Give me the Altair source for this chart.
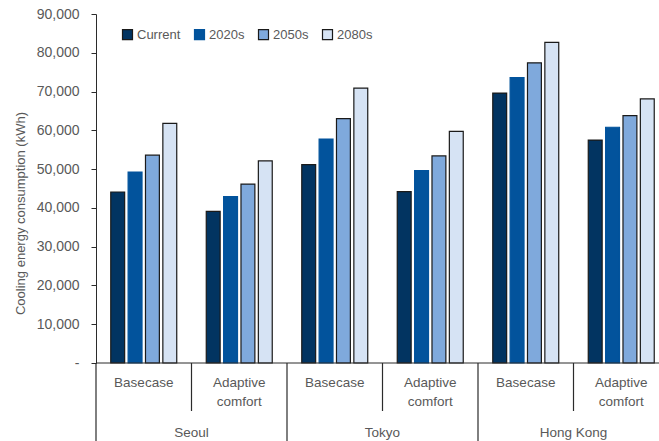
import altair as alt
import pandas as pd

cities = ["Seoul", "Tokyo", "Hong Kong"]
cases = ["Basecase", "Adaptive comfort"]
case_line1 = ["Basecase", "Adaptive"]
case_line2 = ["", "comfort"]
periods = ["Current", "2020s", "2050s", "2080s"]

# values per category: Seoul-Base, Seoul-Adapt, Tokyo-Base, Tokyo-Adapt, HK-Base, HK-Adapt
current = [44100, 39100, 51150, 44200, 69600, 57500]
s2020 = [49250, 42900, 57750, 49600, 73600, 60800]
s2050 = [53600, 46150, 63000, 53400, 77400, 63800]
s2080 = [61800, 52100, 70900, 59750, 82700, 68100]

fill_colors = ["#023461", "#02539C", "#7FA9DC", "#D6E3F4"]
stroke_colors = ["#1a1a1a", "#02539C", "#1a1a1a", "#1a1a1a"]

keys = [f"{c} | {k}" for c in cities for k in cases]
series = [current, s2020, s2050, s2080]

rows = []
for p, vals in zip(periods, series):
    for key, v in zip(keys, vals):
        rows.append({"key": key, "period": p, "value": v})
bars_df = pd.DataFrame(rows)

labels_df = pd.DataFrame([
    {"key": f"{c} | {k}", "line1": l1, "line2": l2, "case": k}
    for c in cities for k, l1, l2 in zip(cases, case_line1, case_line2)
])
city_df = pd.DataFrame([{"key": f"{c} | Basecase", "city": c} for c in cities])
short_df = pd.DataFrame([{"key": f"{c} | Adaptive comfort"} for c in cities])
long_df = pd.DataFrame([{"key": f"{c} | Basecase"} for c in cities])

FONT = "Liberation Sans"
TXT = "#595959"
LINE = "#2b2b2b"
W, H = 563, 349

xscale = alt.Scale(domain=keys, range=[0, 573], paddingInner=0, paddingOuter=0)


def X(band=0.5):
    return alt.X("key:N", sort=keys, scale=xscale, axis=None, bandPosition=band)


def legend():
    return alt.Legend(orient="none", legendX=25, legendY=14,
                      direction="horizontal", title=None,
                      symbolType="square", symbolSize=100,
                      symbolStrokeWidth=1.2,
                      labelFont=FONT, labelFontSize=13, labelColor=TXT,
                      columnPadding=11, labelOffset=3, padding=0)


bars = alt.Chart(bars_df).mark_bar(strokeWidth=1.2).encode(
    x=alt.X("key:N", sort=keys, scale=xscale, axis=None),
    xOffset=alt.XOffset("period:N", sort=periods,
                        scale=alt.Scale(domain=periods, paddingInner=0.2, paddingOuter=0.85)),
    y=alt.Y("value:Q", scale=alt.Scale(domain=[0, 90000]),
            axis=alt.Axis(values=list(range(0, 90001, 10000)),
                          labelExpr="datum.value == 0 ? '-' : format(datum.value, ',')",
                          grid=False, tickSize=5, domainColor=LINE, tickColor=LINE,
                          labelColor=TXT, labelFont=FONT, labelFontSize=14, labelPadding=12,
                          title="Cooling energy consumption (kWh)", titleFont=FONT,
                          titleFontSize=13, titleColor=TXT, titleFontWeight="normal",
                          titleX=-76, titleY=199, titleAngle=270, titleAlign="center",
                          titleBaseline="middle")),
    color=alt.Color("period:N", sort=periods,
                    scale=alt.Scale(domain=periods, range=fill_colors),
                    legend=legend()),
    stroke=alt.Stroke("period:N", sort=periods,
                      scale=alt.Scale(domain=periods, range=stroke_colors),
                      legend=legend()),
)

xaxis_line = alt.Chart(city_df.head(1)).mark_rule(color=LINE, strokeWidth=1).encode(
    x=alt.value(0), x2=alt.value(W), y=alt.value(H)
)

text1 = alt.Chart(labels_df).mark_text(font=FONT, fontSize=13.5, color=TXT, baseline="middle").encode(
    x=X(0.5), y=alt.value(369), text="line1:N"
)
text2 = alt.Chart(labels_df).mark_text(font=FONT, fontSize=13.5, color=TXT, baseline="middle").encode(
    x=X(0.5), y=alt.value(388), text="line2:N"
)
city_text = alt.Chart(city_df).mark_text(font=FONT, fontSize=13.5, color=TXT, baseline="middle").encode(
    x=X(1.0), y=alt.value(419), text="city:N"
)
short_rules = alt.Chart(short_df).mark_rule(color=LINE, strokeWidth=1.2).encode(
    x=X(0.0), y=alt.value(H), y2=alt.value(397)
)
long_rules = alt.Chart(long_df).mark_rule(color=LINE, strokeWidth=1.2).encode(
    x=X(0.0), y=alt.value(H), y2=alt.value(440)
)

chart = alt.layer(bars, xaxis_line, short_rules, long_rules, text1, text2, city_text).properties(
    width=W, height=H, autosize="none",
    padding={"left": 96, "top": 14, "right": 0, "bottom": 78},
).configure_view(stroke=None)

chart.save("out.html", embed_options={"renderer": "svg", "actions": False})
